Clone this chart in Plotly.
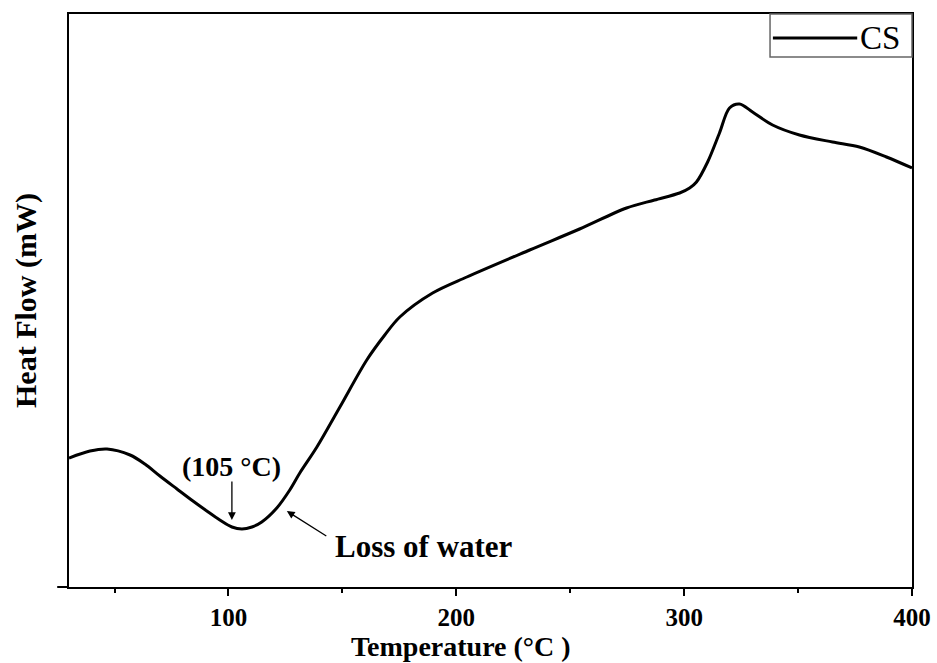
import plotly.graph_objects as go

temperature = [30, 39.2, 46.7, 56.8, 63.3, 69.9, 77.4, 84.4, 90.5, 96.2, 101.5, 105.9, 110.3,
               114.6, 121.2, 126.9, 131.3, 138.8, 148.9, 160.7, 168.6, 175.2, 189.6, 204.6,
               232.2, 254.1, 274.7, 287, 298, 302.4, 305.4, 310.3, 315.5, 319.9, 324.3, 330,
               338.8, 350.6, 365.1, 376.9, 388.8, 400]
heat_flow = [129, 136, 138, 132, 123, 111, 98, 86, 76, 67, 60, 58, 60,
             65, 79, 97, 114, 140, 180, 227, 252, 270, 294, 310,
             337, 358, 379, 387, 394, 399, 405, 425, 454, 479, 483, 475,
             462, 452, 445, 440, 430, 419]
series_name = "CS"

FONT = "Liberation Serif, Times New Roman, serif"

fig = go.Figure()
fig.add_trace(go.Scatter(x=temperature, y=heat_flow, mode="lines", name=series_name,
                         line=dict(color="black", width=3, shape="spline", smoothing=0.9),
                         showlegend=False))

fig.update_layout(
    width=937, height=663,
    margin=dict(l=69, r=25, t=14, b=76, autoexpand=False),
    plot_bgcolor="white", paper_bgcolor="white",
    font=dict(family=FONT, color="black"),
    xaxis=dict(range=[30, 400], tick0=0, dtick=100, ticks="outside", ticklen=7, tickwidth=2,
               tickcolor="black", showline=True, linecolor="black", linewidth=2, mirror=True,
               showgrid=False, zeroline=False, automargin=False,
               tickfont=dict(family=FONT, size=25, color="black", weight="bold"),
               minor=dict(dtick=50, ticks="outside", ticklen=4, tickwidth=2, tickcolor="black")),
    yaxis=dict(range=[0, 573], showticklabels=False, ticks="", showline=True, linecolor="black",
               linewidth=2, mirror=True, showgrid=False, zeroline=False, automargin=False,
               title=dict(text="Heat Flow (mW)", font=dict(family=FONT, size=30, color="black", weight="bold"),
                          standoff=22)),
)

# x-axis title placed as in the reference (slightly left of centre)
fig.add_annotation(xref="paper", yref="paper", x=0.465, y=-0.1035, yanchor="middle",
                   text="<b>Temperature (°C )</b>", showarrow=False,
                   font=dict(family=FONT, size=28, color="black"))

# extension of bottom axis line to the left
fig.add_shape(type="line", xref="paper", yref="paper", x0=-0.014, x1=0, y0=0, y1=0,
              line=dict(color="black", width=2))

# legend box
fig.add_shape(type="rect", xref="paper", yref="paper", x0=0.8316, x1=1.0, y0=0.925, y1=1.0,
              line=dict(color="#666", width=1.5), fillcolor="rgba(0,0,0,0)")
fig.add_shape(type="line", xref="paper", yref="paper", x0=0.835, x1=0.935, y0=0.958, y1=0.958,
              line=dict(color="black", width=3))
fig.add_annotation(xref="paper", yref="paper", x=0.936, y=0.958, xanchor="left", yanchor="middle",
                   text=series_name, showarrow=False, font=dict(family=FONT, size=33, color="black"))

# annotations
fig.add_annotation(x=101.5, y=121, text="<b>(105 °C)</b>", showarrow=False,
                   font=dict(family=FONT, size=28, color="black"))
fig.add_annotation(x=101.5, y=67, ax=0, ay=-40, text="", showarrow=True,
                   arrowhead=2, arrowsize=1.2, arrowwidth=1.3, arrowcolor="black")
fig.add_annotation(x=125.6, y=76, ax=41, ay=26, text="", showarrow=True,
                   arrowhead=2, arrowsize=1.2, arrowwidth=1.3, arrowcolor="black")
fig.add_annotation(x=145.8, y=41, text="<b>Loss of water</b>", showarrow=False, xanchor="left",
                   yanchor="middle", font=dict(family=FONT, size=31, color="black"))

fig.write_html("out.html")
